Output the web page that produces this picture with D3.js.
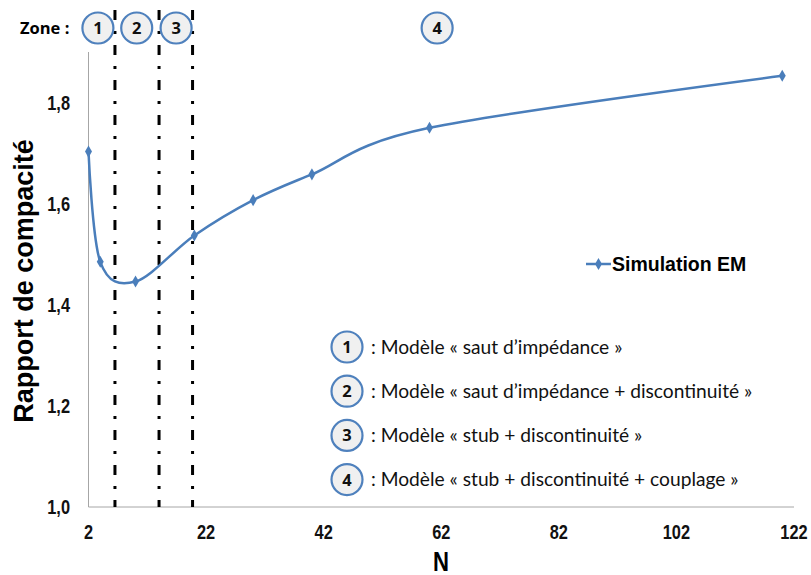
<!DOCTYPE html>
<html><head><meta charset="utf-8">
<script src="https://cdn.jsdelivr.net/npm/d3@7"></script>
<style>body{margin:0;background:#fff}svg{display:block}</style>
</head><body><svg id="c" width="811" height="575"></svg>
<script>
const nValues = [2, 4, 10, 20, 30, 40, 60, 120];
const ratioValues = [1.703, 1.485, 1.446, 1.537, 1.607, 1.658, 1.750, 1.853];
const xTicks = [2, 22, 42, 62, 82, 102, 122];
const yTicks = [1.0, 1.2, 1.4, 1.6, 1.8];
const zoneBounds = [6.5, 14, 19.7];
const zoneLabels = ["1", "2", "3", "4"];
const zoneCenters = [3.6, 10.2, 16.9, 61.3];
const modelTexts = [
  ": Modèle « saut d’impédance »",
  ": Modèle « saut d’impédance + discontinuité »",
  ": Modèle « stub + discontinuité »",
  ": Modèle « stub + discontinuité + couplage »"
];
const seriesName = "Simulation EM";

const svg = d3.select("#c");
const x = d3.scaleLinear().domain([2, 122]).range([88.5, 794]);
const y = d3.scaleLinear().domain([1.0, 1.9]).range([507, 52]);
const blue = "#4A7EBB", ring = "#4F81BD";
const arial = "'Liberation Sans',Arial,sans-serif";
const body = "Lato,'Open Sans',sans-serif";

// axes lines
svg.append("line").attr("x1", x(2)).attr("x2", x(2)).attr("y1", y(1.9)).attr("y2", y(1.0)).attr("stroke", "#a6a6a6").attr("stroke-width", 1);
svg.append("line").attr("x1", x(2)).attr("x2", x(122)).attr("y1", y(1.0)).attr("y2", y(1.0)).attr("stroke", "#a6a6a6").attr("stroke-width", 1);

// tick labels (narrowed)
svg.selectAll(".xt").data(xTicks).enter().append("text")
  .attr("transform", d => `translate(${x(d)},539) scale(0.82,1)`).attr("text-anchor", "middle")
  .attr("font-family", arial).attr("font-weight", "bold").attr("font-size", 20).attr("fill", "#111")
  .text(d => d);
svg.selectAll(".yt").data(yTicks).enter().append("text")
  .attr("transform", d => `translate(70,${y(d) + 7}) scale(0.82,1)`).attr("text-anchor", "end")
  .attr("font-family", arial).attr("font-weight", "bold").attr("font-size", 20).attr("fill", "#111")
  .text(d => d3.format(".1f")(d).replace(".", ","));

// axis titles
svg.append("text").attr("transform", "translate(441,571) scale(0.82,1)").attr("text-anchor", "middle")
  .attr("font-family", arial).attr("font-weight", "bold").attr("font-size", 27).text("N");
svg.append("text").attr("transform", "translate(33,281) rotate(-90)").attr("text-anchor", "middle")
  .attr("font-family", arial).attr("font-weight", "bold").attr("font-size", 27).text("Rapport de compacité");

// zone boundaries
svg.selectAll(".zb").data(zoneBounds).enter().append("line")
  .attr("x1", d => x(d)).attr("x2", d => x(d)).attr("y1", 10).attr("y2", y(1.0))
  .attr("stroke", "#000").attr("stroke-width", 3).attr("stroke-dasharray", "10,11,3,11");

// curve
const pts = nValues.map((n, i) => [n, ratioValues[i]]);
svg.append("path").datum(pts)
  .attr("d", d3.line().x(d => x(d[0])).y(d => y(d[1])).curve(d3.curveCardinal.tension(0)))
  .attr("fill", "none").attr("stroke", blue).attr("stroke-width", 2.5);
const diamond = d3.symbol().type(d3.symbolDiamond).size(42);
svg.selectAll(".pt").data(pts).enter().append("path")
  .attr("d", diamond).attr("transform", d => `translate(${x(d[0])},${y(d[1])})`).attr("fill", blue);

// legend
svg.append("line").attr("x1", 586).attr("x2", 611).attr("y1", 264).attr("y2", 264).attr("stroke", blue).attr("stroke-width", 2.5);
svg.append("path").attr("d", diamond).attr("transform", "translate(598.5,264)").attr("fill", blue);
svg.append("text").attr("x", 612).attr("y", 271).attr("font-family", arial).attr("font-weight", "bold")
  .attr("font-size", 19.5).text(seriesName);

// zone header
svg.append("text").attr("x", 20).attr("y", 34).attr("font-family", "'Open Sans',sans-serif").attr("font-weight", "bold")
  .attr("font-size", 16.5).text("Zone :");
function badge(cx, cy, label) {
  svg.append("circle").attr("cx", cx).attr("cy", cy).attr("r", 15.5).attr("fill", "#f0f0f0")
    .attr("stroke", ring).attr("stroke-width", 2.2);
  svg.append("text").attr("x", cx).attr("y", cy + 6).attr("text-anchor", "middle")
    .attr("font-family", "'Open Sans',sans-serif").attr("font-weight", "bold").attr("font-size", 16.5).attr("fill", "#111").text(label);
}
zoneLabels.forEach((l, i) => badge(x(zoneCenters[i]), 28, l));

// model list
modelTexts.forEach((t, i) => {
  const cy = 347 + i * 44.2;
  badge(347, cy, zoneLabels[i]);
  svg.append("text").attr("x", 371).attr("y", cy + 6.5).attr("font-family", body)
    .attr("font-size", 19.2).attr("fill", "#111").text(t);
});
</script></body></html>
